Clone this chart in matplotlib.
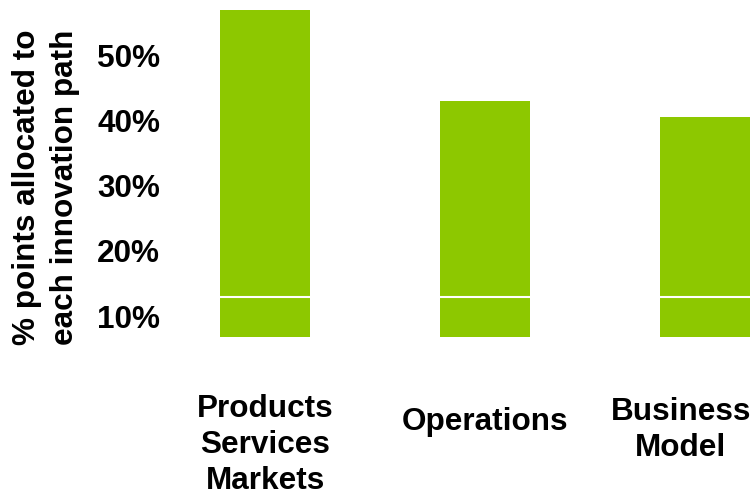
import matplotlib.pyplot as plt
from matplotlib.transforms import blended_transform_factory

# share of points per innovation path (%)
paths = ["Products\nServices\nMarkets", "Operations", "Business\nModel"]
total_share = [56.9, 43.0, 40.5]
split_level = [13.0, 13.0, 13.0]
axis_floor = 6.8
tick_values = [10, 20, 30, 40, 50]
tick_labels = ["10%", "20%", "30%", "40%", "50%"]

GREEN = "#8dc800"
W, H = 755, 497

plt.rcParams["font.family"] = ["Liberation Sans", "DejaVu Sans"]
plt.rcParams["font.weight"] = "bold"

fig = plt.figure(figsize=(W / 100, H / 100), dpi=100)
ax = fig.add_axes([170 / W, 1 - 337 / H, (W - 170) / W, 337 / H])

x = list(range(len(paths)))
width = 0.41
lower = [s - axis_floor for s in split_level]
upper = [t - s for t, s in zip(total_share, split_level)]
ax.bar(x, lower, width, bottom=axis_floor, color=GREEN, linewidth=0)
ax.bar(x, upper, width, bottom=split_level, color=GREEN, linewidth=0)
# thin white separator between the two segments
for xi, s in zip(x, split_level):
    ax.hlines(s, xi - width / 2, xi + width / 2, color="white", linewidth=1.5)

ax.set_xlim(-95 / 220, (W - 170 - 95) / 220)
ax.set_ylim(axis_floor, 58.47)
ax.set_yticks(tick_values)
ax.set_yticklabels(tick_labels, fontsize=22.7, fontweight="bold")
ax.tick_params(axis="y", length=0, pad=7)
ax.set_xticks([])
for sp in ax.spines.values():
    sp.set_visible(False)

# category names under the bars (last one nudged left so it fits)
trans = blended_transform_factory(ax.transData, fig.transFigure)
label_dx = [0.0, 0.0, -0.11]
label_y = [445, 422, 430]
for xi, name, dx, py in zip(x, paths, label_dx, label_y):
    ax.text(xi + dx, 1 - py / H, name, transform=trans, ha="center", va="center",
            fontsize=22.7, fontweight="bold", linespacing=1.27, clip_on=False)

fig.text(46 / W, 1 - 187 / H, "% points allocated to\neach innovation path",
         rotation=90, ha="center", va="center", fontsize=22.7,
         fontweight="bold", linespacing=1.35)

fig.savefig("out.png", dpi=100)
